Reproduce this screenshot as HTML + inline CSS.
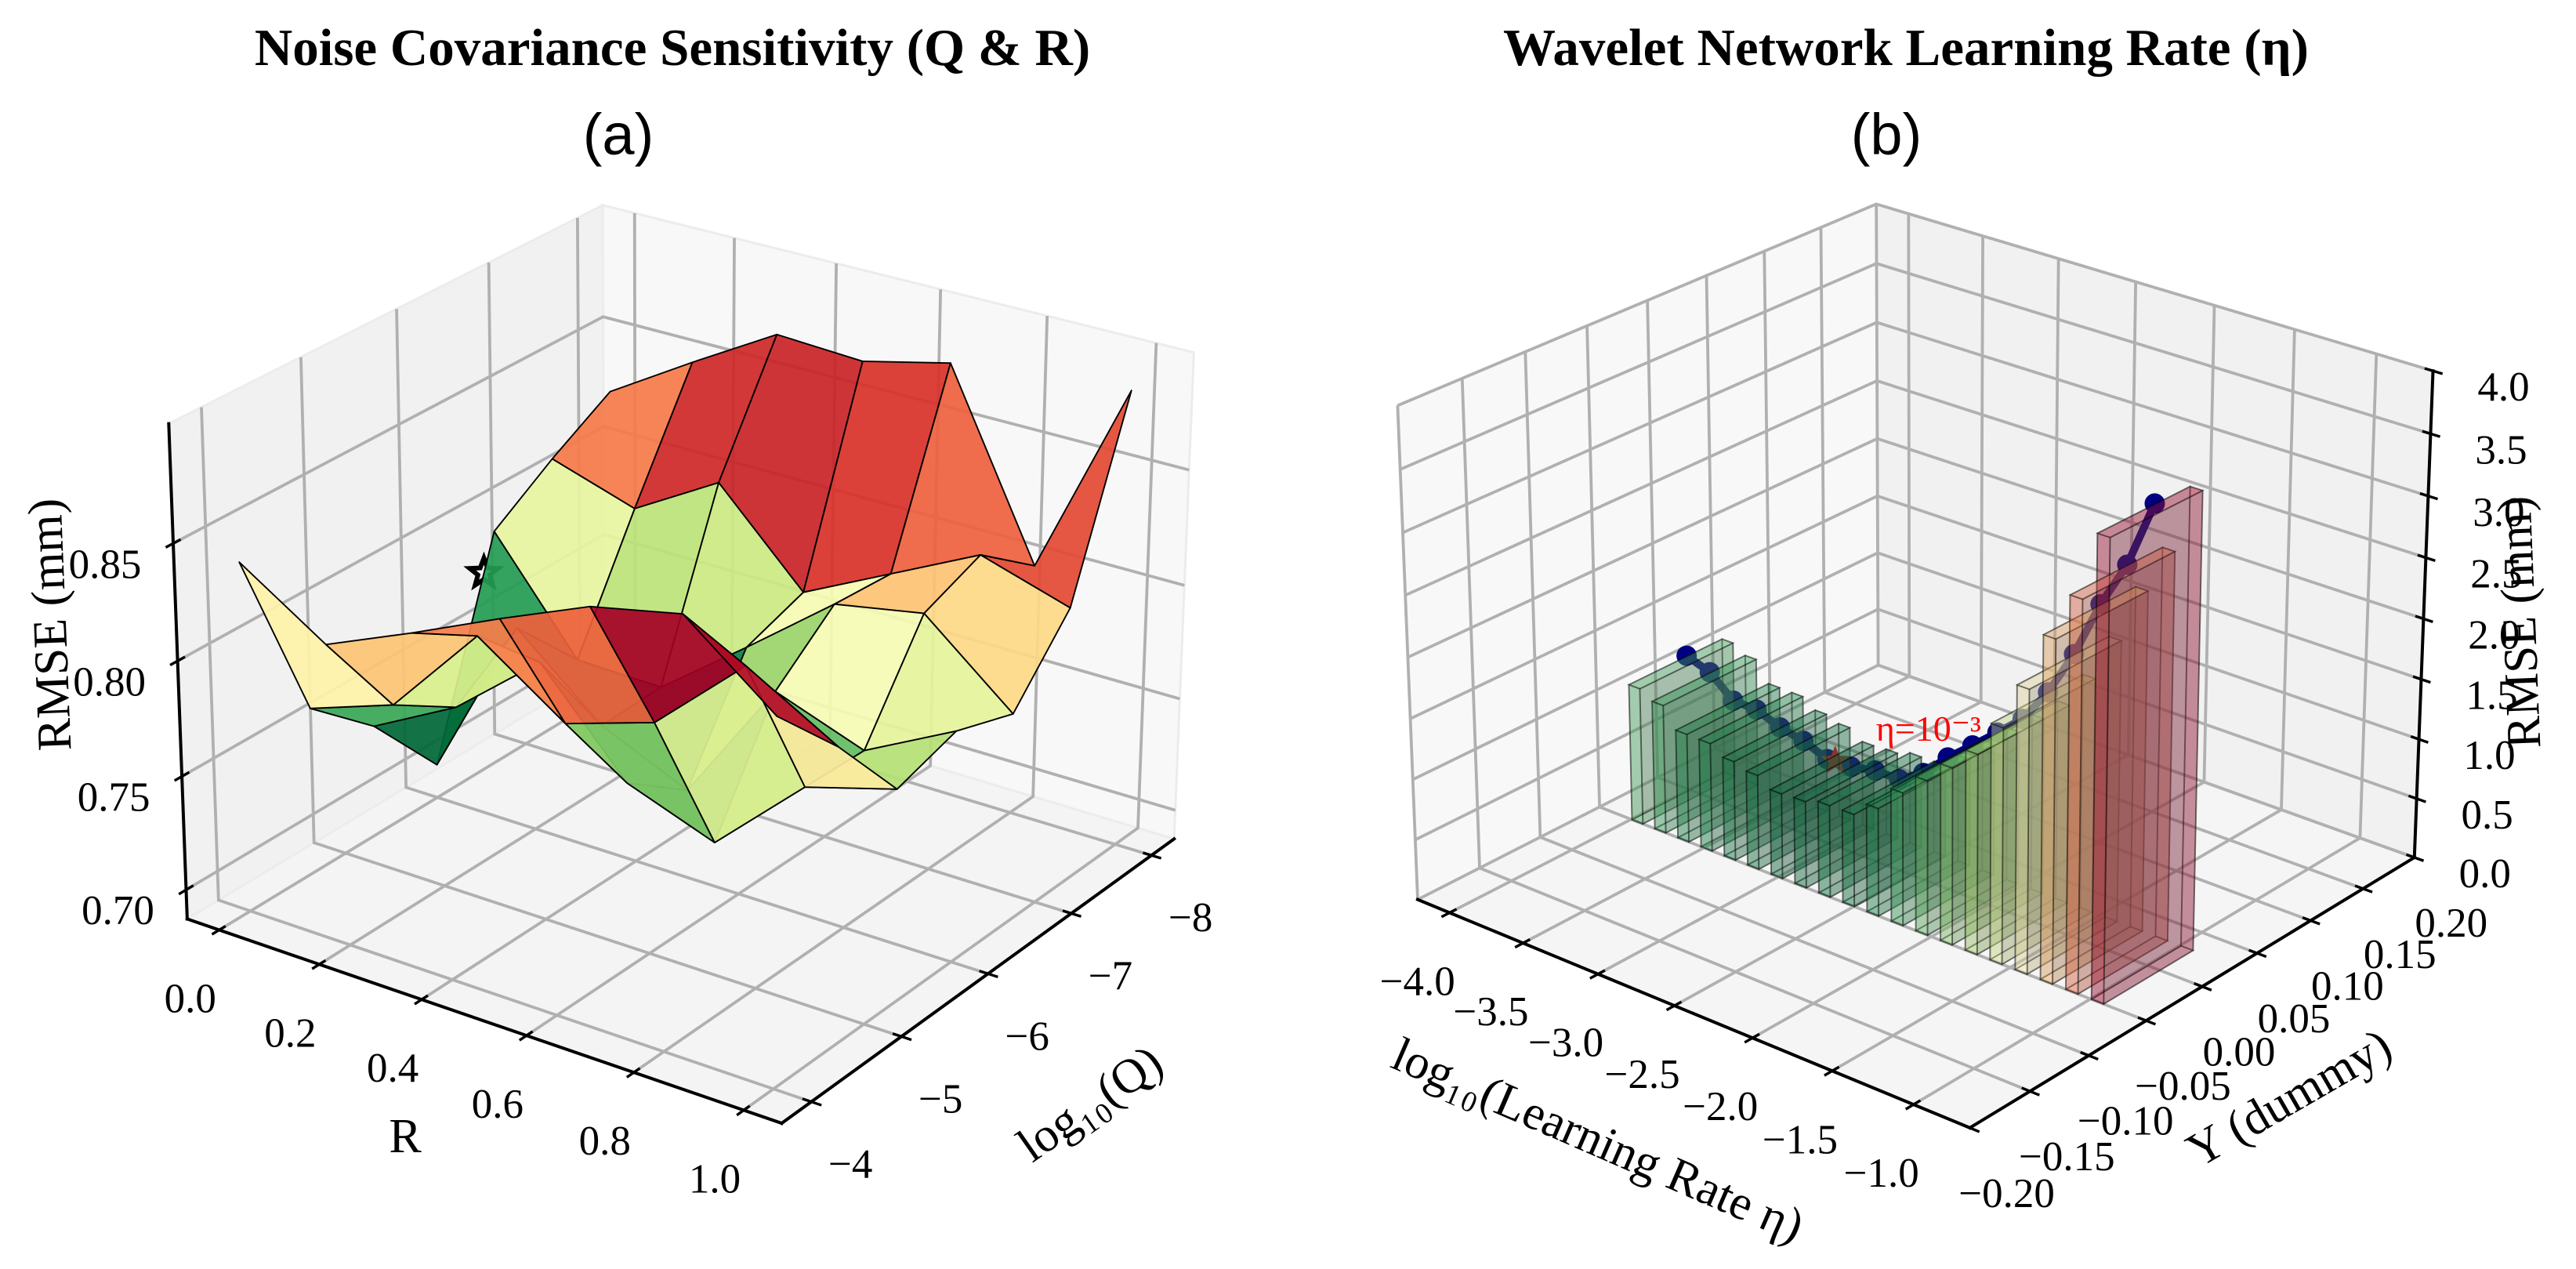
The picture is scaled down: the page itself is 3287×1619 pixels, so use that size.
<!DOCTYPE html>
<html lang="en">
<head>
<meta charset="utf-8">
<title>Noise covariance sensitivity and wavelet network learning rate</title>
<style>
html,body{margin:0;padding:0;background:#fff;}
svg{display:block;}
text{font-family:"Liberation Serif",serif;fill:#000;}
.tick{font-size:53px;text-anchor:middle;dominant-baseline:central;}
.axl{font-size:62px;text-anchor:middle;dominant-baseline:central;}
.ttl{font-size:67px;font-weight:bold;text-anchor:middle;}
.sub{font-family:"Liberation Sans",sans-serif;font-size:74px;text-anchor:middle;}
</style>
</head>
<body>
<svg id="fig" xmlns="http://www.w3.org/2000/svg" width="3287" height="1619" viewBox="0 0 3287 1619">
  <rect width="3287" height="1619" fill="#fff"/>
  <g id="panelA"></g>
  <g id="panelB"></g>
  <text class="ttl" x="858" y="83">Noise Covariance Sensitivity (Q &amp; R)</text>
  <text class="sub" x="789" y="197">(a)</text>
  <text class="ttl" x="2432" y="83">Wavelet Network Learning Rate (η)</text>
  <text class="sub" x="2407" y="197">(b)</text>
  <text class="axl" x="64" y="797" transform="rotate(-92.3 64 797)">RMSE (mm)</text>
  <text class="axl" x="517" y="1450">R</text>
  <text class="axl" x="1391" y="1408" transform="rotate(-35 1391 1408)">log₁₀(Q)</text>
  <text class="axl" x="2039" y="1455" transform="rotate(23.5 2039 1455)">log₁₀(Learning Rate η)</text>
  <text class="axl" x="2921" y="1401" transform="rotate(-30 2921 1401)">Y (dummy)</text>
  <text class="axl" x="3215" y="794" transform="rotate(-92.3 3215 794)">RMSE (mm)</text>
</svg>
<script>
// ---------- Panel (a) data ----------
const rValues = [0, 1/6, 2/6, 3/6, 4/6, 5/6, 1];
const qValues = [-8, -7.33, -6.67, -6, -5.33, -4.67, -4];
const rmseRowQ8 = [0.826, 0.849, 0.871, 0.869, 0.878, 0.800, 0.886];
const rmseRowQ7 = [0.810, 0.798, 0.820, 0.782, 0.801, 0.820, 0.808];
const rmseRowQ67 = [0.792, 0.745, 0.744, 0.773, 0.803, 0.810, 0.778];
const rmseRowQ6 = [0.702, 0.775, 0.743, 0.726, 0.781, 0.767, 0.787];
const rmseRowQ53 = [0.736, 0.756, 0.787, 0.746, 0.732, 0.768, 0.779];
const rmseRowQ47 = [0.760, 0.773, 0.814, 0.788, 0.800, 0.835, 0.813];
const rmseRowQ4 = [0.839, 0.815, 0.831, 0.848, 0.864, 0.872, 0.842];
const surfaceRows = [rmseRowQ8, rmseRowQ7, rmseRowQ67, rmseRowQ6, rmseRowQ53, rmseRowQ47, rmseRowQ4];
const bestPointA = [0, -6.55, 0.776];
const rTicks = [0, 0.2, 0.4, 0.6, 0.8, 1];
const rTickLabels = ["0.0", "0.2", "0.4", "0.6", "0.8", "1.0"];
const qTicks = [-4, -5, -6, -7, -8];
const qTickLabels = ["−4", "−5", "−6", "−7", "−8"];
const zTicksA = [0.70, 0.75, 0.80, 0.85];
const zTickLabelsA = ["0.70", "0.75", "0.80", "0.85"];

// ---------- Panel (b) data ----------
const logEta = [-4, -3.842, -3.684, -3.526, -3.368, -3.211, -3.053, -2.895, -2.737, -2.579, -2.421, -2.263, -2.105, -1.947, -1.789, -1.632, -1.474, -1.316, -1.158, -1];
const rmseEta = [1.148, 1.08, 0.911, 0.908, 0.831, 0.79, 0.711, 0.722, 0.765, 0.768, 0.894, 1.098, 1.272, 1.452, 1.637, 1.925, 2.304, 2.771, 3.151, 3.694];
const bestPointB = [-3, 0, 0.72];
const xTicksB = [-4, -3.5, -3, -2.5, -2, -1.5, -1];
const xTickLabelsB = ["−4.0", "−3.5", "−3.0", "−2.5", "−2.0", "−1.5", "−1.0"];
const yTicksB = [-0.2, -0.15, -0.1, -0.05, 0, 0.05, 0.1, 0.15, 0.2];
const yTickLabelsB = ["−0.20", "−0.15", "−0.10", "−0.05", "0.00", "0.05", "0.10", "0.15", "0.20"];
const zTicksB = [0, 0.5, 1, 1.5, 2, 2.5, 3, 3.5, 4];
const zTickLabelsB = ["0.0", "0.5", "1.0", "1.5", "2.0", "2.5", "3.0", "3.5", "4.0"];

// ---------- Projection: 3D box -> screen fitted to the box corners ----------
function fitProjection(corners) {
  const A = [], b = [];
  corners.forEach(function (c) {
    const u = c[0], v = c[1], w = c[2], sx = c[3] / 1000, sy = c[4] / 1000;
    A.push([u, v, w, 1, 0, 0, 0, 0, -sx * u, -sx * v, -sx * w]); b.push(sx);
    A.push([0, 0, 0, 0, u, v, w, 1, -sy * u, -sy * v, -sy * w]); b.push(sy);
  });
  const n = 11, M = [];
  for (let i = 0; i < n; i++) {
    M.push(new Array(n + 1).fill(0));
    for (let j = 0; j < n; j++) for (let k = 0; k < A.length; k++) M[i][j] += A[k][i] * A[k][j];
    for (let k = 0; k < A.length; k++) M[i][n] += A[k][i] * b[k];
  }
  for (let i = 0; i < n; i++) {
    let p = i;
    for (let r = i + 1; r < n; r++) if (Math.abs(M[r][i]) > Math.abs(M[p][i])) p = r;
    const t = M[i]; M[i] = M[p]; M[p] = t;
    for (let r = 0; r < n; r++) {
      if (r === i) continue;
      const f = M[r][i] / M[i][i];
      for (let c = i; c <= n; c++) M[r][c] -= f * M[i][c];
    }
  }
  const h = [];
  for (let i = 0; i < n; i++) h.push(M[i][n] / M[i][i]);
  return function (u, v, w) {
    const d = h[8] * u + h[9] * v + h[10] * w + 1;
    return {
      x: 1000 * (h[0] * u + h[1] * v + h[2] * w + h[3]) / d,
      y: 1000 * (h[4] * u + h[5] * v + h[6] * w + h[7]) / d,
      d: d
    };
  };
}

const SVGNS = "http://www.w3.org/2000/svg";
function mk(parent, tag, attrs) {
  const el = document.createElementNS(SVGNS, tag);
  for (const k in attrs) el.setAttribute(k, attrs[k]);
  parent.appendChild(el);
  return el;
}
function ptsStr(pts) {
  return pts.map(function (p) { return p.x.toFixed(2) + "," + p.y.toFixed(2); }).join(" ");
}
const STOPS = [[0,104,55],[26,152,80],[102,189,99],[166,217,106],[217,239,139],[255,255,191],[254,224,139],[253,174,97],[244,109,67],[215,48,39],[165,0,38]];
function cmap(t) {
  t = Math.max(0, Math.min(1, t)) * 10;
  const i = Math.min(9, Math.floor(t)), f = t - i;
  return [0, 1, 2].map(function (k) { return STOPS[i][k] + (STOPS[i + 1][k] - STOPS[i][k]) * f; });
}
function rgb(c, s, grey) {
  const g = grey || 0;
  return "rgb(" + c.map(function (v) { return Math.min(255, Math.round(v * s + g)); }).join(",") + ")";
}
function starPts(cx, cy, r) {
  const out = [];
  for (let i = 0; i < 10; i++) {
    const a = -Math.PI / 2 + i * Math.PI / 5, q = i % 2 ? r * 0.42 : r;
    out.push({ x: cx + q * Math.cos(a), y: cy + q * Math.sin(a) });
  }
  return out;
}

const GRID = { stroke: "#b0b0b0", "stroke-width": 3.8, fill: "none" };
const AXIS = { stroke: "#000", "stroke-width": 4, fill: "none", "stroke-linecap": "square" };
const TICK = { stroke: "#000", "stroke-width": 3.4, fill: "none" };

function panes(g, P, cols) {
  const left = mk(g, "polygon", { points: ptsStr([P(0,0,0), P(0,1,0), P(0,1,1), P(0,0,1)]), fill: cols[0], stroke: "#ececec", "stroke-width": 3 });
  
  
  const right = mk(g, "polygon", { points: ptsStr([P(0,1,0), P(1,1,0), P(1,1,1), P(0,1,1)]), fill: cols[1], stroke: "#ececec", "stroke-width": 3 });
  
  
  const floor = mk(g, "polygon", { points: ptsStr([P(0,0,0), P(1,0,0), P(1,1,0), P(0,1,0)]), fill: cols[2], stroke: "#ececec", "stroke-width": 3 });
  
  
}

// Grid + axes for a box. uOf/vOf/wOf are the axis functions of a panel.
function gridAndAxes(g, P, uOf, vOf, wOf, uT, uL, vT, vL, wT, wL, offU, offV, offW, zAxisAtRight) {
  uT.forEach(function (t) {
    const u = uOf(t);
    const line = mk(g, "polyline", Object.assign({ points: ptsStr([P(u,0,0), P(u,1,0), P(u,1,1)]) }, GRID));
    
    
  });
  vT.forEach(function (t) {
    const v = vOf(t);
    const line = mk(g, "polyline", Object.assign({ points: ptsStr([P(1,v,0), P(0,v,0), P(0,v,1)]) }, GRID));
    
    
  });
  wT.forEach(function (t) {
    const w = wOf(t);
    const line = mk(g, "polyline", Object.assign({ points: ptsStr([P(0,0,w), P(0,1,w), P(1,1,w)]) }, GRID));
    
    
  });

  const a1 = mk(g, "line", Object.assign({ x1: P(0,0,0).x, y1: P(0,0,0).y, x2: P(1,0,0).x, y2: P(1,0,0).y }, AXIS));
  
  
  const a2 = mk(g, "line", Object.assign({ x1: P(1,0,0).x, y1: P(1,0,0).y, x2: P(1,1,0).x, y2: P(1,1,0).y }, AXIS));
  
  
  const zb = zAxisAtRight ? P(1,1,0) : P(0,0,0), zt = zAxisAtRight ? P(1,1,1) : P(0,0,1);
  const a3 = mk(g, "line", Object.assign({ x1: zb.x, y1: zb.y, x2: zt.x, y2: zt.y }, AXIS));
  
  

  uT.forEach(function (t, i) {
    const u = uOf(t), a = P(u,-0.016,0), b = P(u,0.014,0), o = P(u,0,0);
    const tick = mk(g, "line", Object.assign({ x1: a.x, y1: a.y, x2: b.x, y2: b.y }, TICK));
    
    
    const lab = mk(g, "text", { class: "tick", x: o.x + offU[0], y: o.y + offU[1] });
    
    
    lab.textContent = uL[i];
  });
  vT.forEach(function (t, i) {
    const v = vOf(t), a = P(1.016,v,0), b = P(0.986,v,0), o = P(1,v,0);
    const tick = mk(g, "line", Object.assign({ x1: a.x, y1: a.y, x2: b.x, y2: b.y }, TICK));
    
    
    const lab = mk(g, "text", { class: "tick", x: o.x + offV[0], y: o.y + offV[1] });
    
    
    lab.textContent = vL[i];
  });
  wT.forEach(function (t, i) {
    const w = wOf(t);
    const a = zAxisAtRight ? P(1.016,1,w) : P(0,-0.016,w);
    const b = zAxisAtRight ? P(0.986,1,w) : P(0,0.016,w);
    const o = zAxisAtRight ? P(1,1,w) : P(0,0,w);
    const tick = mk(g, "line", Object.assign({ x1: a.x, y1: a.y, x2: b.x, y2: b.y }, TICK));
    
    
    const lab = mk(g, "text", { class: "tick", x: o.x + offW[0], y: o.y + offW[1] });
    
    
    lab.textContent = wL[i];
  });
}

// ---------- Draw panel (a) ----------
(function () {
  const g = document.getElementById("panelA");
  const P = fitProjection([
    [0,0,0, 240,1173], [0,0,1, 214.6,540], [0,1,0, 770,852], [0,1,1, 770,262],
    [1,0,0, 997,1433], [1,1,0, 1499,1070], [1,1,1, 1523,450]
  ]);
  const RMIN = -0.065, RMAX = 1.068, QFRONT = -3.68, QBACK = -8.29, ZMIN = 0.687, ZMAX = 0.900;
  const uOf = function (r) { return (r - RMIN) / (RMAX - RMIN); };
  const vOf = function (q) { return (QFRONT - q) / (QFRONT - QBACK); };
  const wOf = function (z) { return (z - ZMIN) / (ZMAX - ZMIN); };
  const D = function (r, q, z) { return P(uOf(r), vOf(q), wOf(z)); };

  panes(g, P, ["#f1f1f1", "#f8f8f8", "#f4f4f4"]);
  gridAndAxes(g, P, uOf, vOf, wOf, rTicks, rTickLabels, qTicks, qTickLabels, zTicksA, zTickLabelsA,
    [-37, 88], [50, 80], [-87, 27], false);

  const sp = D(bestPointA[0], bestPointA[1], bestPointA[2]);
  const star = mk(g, "polygon", { points: ptsStr(starPts(sp.x, sp.y, 19)), fill: "#fff", stroke: "#000", "stroke-width": 6, "stroke-linejoin": "miter" });
  
  

  const quads = [];
  for (let j = 0; j < qValues.length - 1; j++) {
    for (let i = 0; i < rValues.length - 1; i++) {
      const zs = [surfaceRows[j][i], surfaceRows[j][i + 1], surfaceRows[j + 1][i + 1], surfaceRows[j + 1][i]];
      const pts = [D(rValues[i], qValues[j], zs[0]), D(rValues[i + 1], qValues[j], zs[1]),
                   D(rValues[i + 1], qValues[j + 1], zs[2]), D(rValues[i], qValues[j + 1], zs[3])];
      quads.push({
        pts: pts,
        avg: (zs[0] + zs[1] + zs[2] + zs[3]) / 4,
        depth: (pts[0].d + pts[1].d + pts[2].d + pts[3].d) / 4
      });
    }
  }
  const avgs = quads.map(function (q) { return q.avg; });
  const vmin = Math.min.apply(null, avgs), vmax = Math.max.apply(null, avgs);
  quads.sort(function (a, b) { return b.depth - a.depth; });
  quads.forEach(function (q) {
    const face = mk(g, "polygon", {
      points: ptsStr(q.pts),
      fill: rgb(cmap((q.avg - vmin) / (vmax - vmin)), 1),
      "fill-opacity": 0.92,
      stroke: "#000",
      "stroke-width": 1.9,
      "stroke-linejoin": "round"
    });
    
    
  });
})();

// ---------- Draw panel (b) ----------
(function () {
  const g = document.getElementById("panelB");
  const P = fitProjection([
    [0,0,0, 1808,1146], [0,0,1, 1783,519], [0,1,0, 2397,849], [0,1,1, 2395,260],
    [1,0,0, 2515,1439], [1,1,0, 3080,1095], [1,1,1, 3104,472]
  ]);
  const XMIN = -4.22, XMAX = -0.66, YMIN = -0.2, YMAX = 0.2, ZMIN = 0, ZMAX = 4;
  const uOf = function (x) { return (x - XMIN) / (XMAX - XMIN); };
  const vOf = function (y) { return (y - YMIN) / (YMAX - YMIN); };
  const wOf = function (z) { return (z - ZMIN) / (ZMAX - ZMIN); };
  const D = function (x, y, z) { return P(uOf(x), vOf(y), wOf(z)); };

  panes(g, P, ["#f8f8f8", "#f1f1f1", "#f5f5f5"]);
  gridAndAxes(g, P, uOf, vOf, wOf, xTicksB, xTickLabelsB, yTicksB, yTickLabelsB, zTicksB, zTickLabelsB,
    [-41, 88], [47, 84], [90, 21], true);

  const path = logEta.map(function (x, i) { return D(x, 0, rmseEta[i]); });
  const line = mk(g, "polyline", { points: ptsStr(path), fill: "none", stroke: "#000080", "stroke-width": 10, "stroke-linejoin": "round" });
  
  
  path.forEach(function (p) {
    const dot = mk(g, "circle", { cx: p.x, cy: p.y, r: 13, fill: "#000080" });
    
    
  });
  const sp = D(bestPointB[0], bestPointB[1], bestPointB[2]);
  const star = mk(g, "polygon", { points: ptsStr(starPts(sp.x, sp.y, 20)), fill: "#e01010" });
  
  

  const BAR_W = 0.075, Y_FRONT = -0.05, Y_BACK = 0.03;
  const vmin = Math.min.apply(null, rmseEta), vmax = Math.max.apply(null, rmseEta);
  const faces = [];
  logEta.forEach(function (x, i) {
    const x0 = x + 0.006, x1 = x0 + BAR_W, y0 = Y_FRONT, y1 = Y_BACK, z = rmseEta[i];
    const c = cmap((z - vmin) / (vmax - vmin));
    const a = D(x0,y0,0), b = D(x1,y0,0), cc = D(x1,y1,0), d = D(x0,y1,0);
    const e = D(x0,y0,z), f = D(x1,y0,z), h = D(x1,y1,z), k = D(x0,y1,z);
    [[[a,b,cc,d], rgb(c,0.8,15)], [[e,f,h,k], rgb(c,1,0)], [[a,b,f,e], rgb(c,1,0)], [[d,cc,h,k], rgb(c,1,0)],
     [[b,cc,h,f], rgb(c,0.5,42)], [[a,d,k,e], rgb(c,0.5,42)]].forEach(function (q) {
      const depth = (q[0][0].d + q[0][1].d + q[0][2].d + q[0][3].d) / 4;
      faces.push({ pts: q[0], fill: q[1], depth: depth });
    });
  });
  faces.sort(function (p, q) { return q.depth - p.depth; });
  faces.forEach(function (q) {
    const face = mk(g, "polygon", {
      points: ptsStr(q.pts),
      fill: q.fill,
      "fill-opacity": 0.27,
      stroke: "#000",
      "stroke-opacity": 0.33,
      "stroke-width": 1.9
    });
    
    
  });

  const note = mk(g, "text", { x: sp.x + 52, y: sp.y - 26, "font-size": 46 });
  note.setAttribute('style', 'fill:#ff0000');
  
  
  note.textContent = "η=10⁻³";
})();
</script>
</body>
</html>
